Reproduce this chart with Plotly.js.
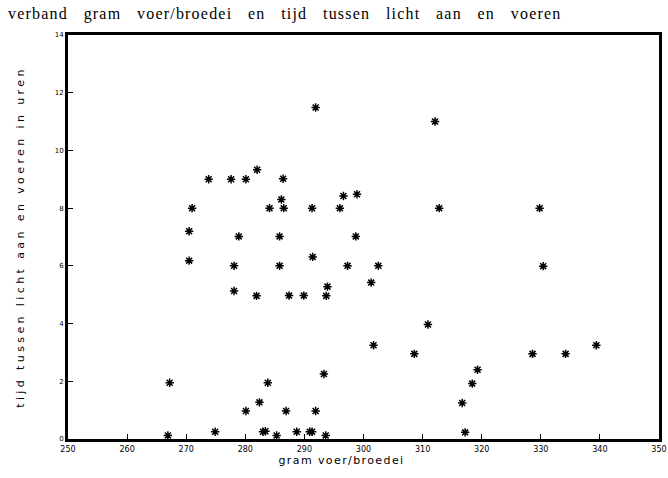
<!DOCTYPE html>
<html>
<head>
<meta charset="utf-8">
<script src="https://cdn.plot.ly/plotly-3.0.1.min.js"></script>
<style>
html,body{margin:0;padding:0;background:#fff;}
#chart{width:668px;height:478px;}
.g-xtitle text{letter-spacing:1.4px;transform:translateX(-22px);}
.g-ytitle text{letter-spacing:3.4px;}
.gtitle{letter-spacing:1.2px;word-spacing:10.5px;}
</style>
</head>
<body>
<div id="chart"></div>
<script>
// gram voer per broedei
const gramVoer = [
  267.2, 266.9, 274.9, 280.1, 282.4, 283.8, 283.0, 283.4, 285.3, 286.9,
  288.7, 290.9, 291.3, 291.9, 293.3, 293.6, 291.9, 312.1, 312.8, 329.8,
  330.4, 310.9, 308.6, 328.6, 334.2, 339.4, 301.7, 319.3, 318.4, 316.7,
  317.2,
  282.0, 273.8, 277.6, 280.1, 286.4, 286.1, 296.6, 298.9, 271.0, 284.1,
  286.5, 291.3, 296.0, 270.5, 278.9, 285.8, 298.7, 270.5, 278.1, 285.8,
  291.4, 297.3, 302.5, 301.3, 293.9, 293.7, 278.1, 281.9, 287.4, 289.9
];
// tijd tussen licht aan en voeren (uren)
const tijdUren = [
  1.95, 0.12, 0.25, 0.97, 1.27, 1.95, 0.25, 0.27, 0.12, 0.97,
  0.25, 0.25, 0.25, 0.97, 2.25, 0.12, 11.49, 11.0, 8.0, 8.0,
  5.99, 3.97, 2.95, 2.95, 2.95, 3.25, 3.25, 2.4, 1.92, 1.25,
  0.23,
  9.33, 9.0, 9.0, 9.0, 9.02, 8.3, 8.42, 8.48, 8.0, 8.0,
  8.0, 8.0, 8.0, 7.2, 7.02, 7.02, 7.02, 6.18, 6.0, 6.0,
  6.31, 6.0, 6.0, 5.42, 5.28, 4.96, 5.13, 4.96, 4.97, 4.97
];
const xTicks = [250, 260, 270, 280, 290, 300, 310, 320, 330, 340, 350];
const yTicks = [0, 2, 4, 6, 8, 10, 12, 14];

const traces = [{
  x: gramVoer,
  y: tijdUren,
  type: 'scatter',
  mode: 'markers',
  marker: {symbol: 'asterisk-open', size: 7, color: '#000', line: {color: '#000', width: 1.5}},
  cliponaxis: false,
  hoverinfo: 'skip'
}, {
  x: gramVoer,
  y: tijdUren,
  type: 'scatter',
  mode: 'markers',
  marker: {symbol: 'circle', size: 3, color: '#000'},
  cliponaxis: false,
  hoverinfo: 'skip'
}];

const layout = {
  width: 668, height: 478,
  margin: {l: 68, r: 9, t: 35, b: 39},
  paper_bgcolor: '#fff', plot_bgcolor: '#fff',
  showlegend: false,
  title: {
    text: 'verband gram voer/broedei en tijd tussen licht aan en voeren',
    font: {family: 'Liberation Serif, serif', size: 16, color: '#000'},
    x: 0.012, xanchor: 'left', xref: 'container', y: 0.972, yanchor: 'middle', yref: 'container'
  },
  xaxis: {
    range: [250, 350], tickvals: xTicks, ticktext: xTicks.map(String),
    showgrid: false, zeroline: false,
    showline: true, mirror: true, linecolor: '#000', linewidth: 3,
    ticks: 'inside', ticklen: 5, tickwidth: 1, tickcolor: '#000',
    tickfont: {family: 'DejaVu Sans, sans-serif', size: 8, color: '#000'},
    title: {text: 'gram voer/broedei', standoff: 3,
      font: {family: 'DejaVu Sans, sans-serif', size: 11, color: '#000'}}
  },
  yaxis: {
    range: [0, 14], tickvals: yTicks, ticktext: yTicks.map(String),
    showgrid: false, zeroline: false,
    showline: true, mirror: true, linecolor: '#000', linewidth: 3,
    ticks: 'inside', ticklen: 5, tickwidth: 1, tickcolor: '#000',
    tickfont: {family: 'DejaVu Sans, sans-serif', size: 7, color: '#000'},
    title: {text: 'tijd tussen licht aan en voeren in uren', standoff: 28,
      font: {family: 'DejaVu Sans, sans-serif', size: 11, color: '#000'}}
  }
};

Plotly.newPlot('chart', traces, layout, {staticPlot: true, displayModeBar: false});
</script>
</body>
</html>
